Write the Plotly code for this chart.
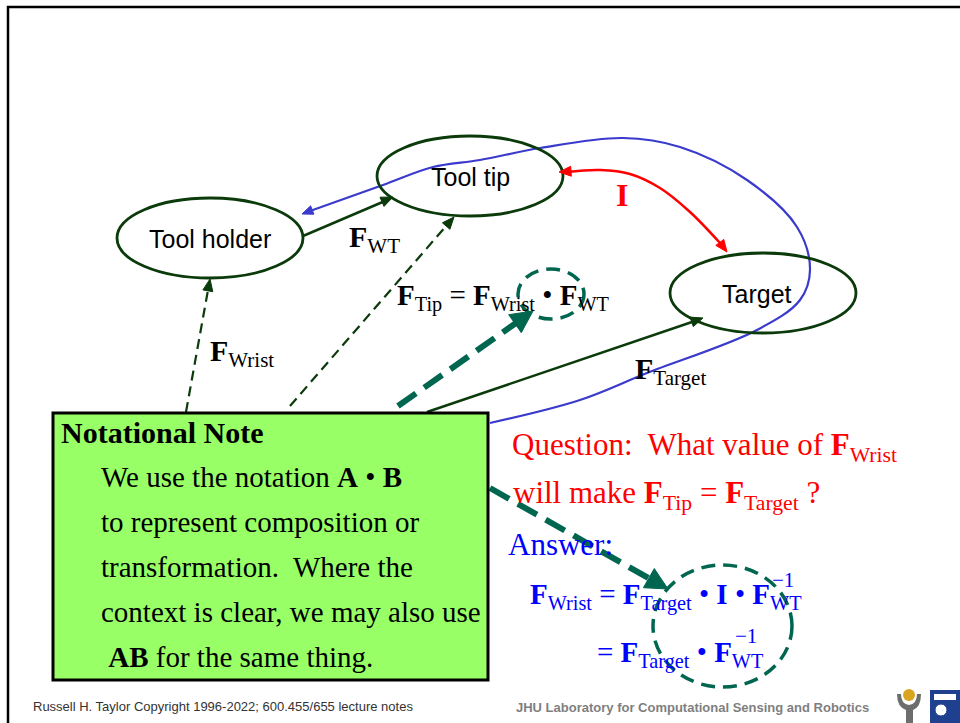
import math
import plotly.graph_objects as go

# ---- content -------------------------------------------------------------
node_labels = ["Tool holder", "Tool tip", "Target"]
node_cx = [210, 470, 763]
node_cy = [238, 176, 293]

note_title = "Notational Note"
note_lines = [
    "We use the notation <b>A</b> \u2022 <b>B</b>",
    "to represent composition or",
    "transformation.  Where the",
    "context is clear, we may also use",
    " <b>AB</b> for the same thing.",
]
footer_left = "Russell H. Taylor Copyright 1996-2022; 600.455/655 lecture notes"
footer_right = "JHU Laboratory for Computational Sensing and Robotics"

# blue loop curve (from note box round to tool holder)
blue_x = [490, 580, 647, 757, 800, 810, 797, 747, 680, 623, 540, 480, 433, 383, 310]
blue_y = [423, 400, 373, 330, 300, 270, 227, 180, 147, 138, 148, 160, 167, 185, 211]
# red "I" curve
red_x = [566, 600, 630, 660, 690, 720]
red_y = [172, 170, 174, 188, 212, 243]

SERIF = "Liberation Serif"
SANS = "Liberation Sans"
DKGREEN = "#0b3a0b"
TEAL = "#006650"
BLUE_LINE = "#3a3acc"
RED = "#ff0000"
BLUE = "#0000ff"

fig = go.Figure()

fig.add_trace(go.Scatter(x=blue_x, y=blue_y, mode="lines",
                         line=dict(color=BLUE_LINE, width=2.2, shape="spline", smoothing=1.0),
                         hoverinfo="skip"))
fig.add_trace(go.Scatter(x=red_x, y=red_y, mode="lines",
                         line=dict(color=RED, width=2.5, shape="spline", smoothing=1.0),
                         hoverinfo="skip"))

shapes = []
ann = []

# slide border (top and left)
shapes.append(dict(type="rect", x0=8, y0=7, x1=990, y1=760,
                   line=dict(color="black", width=2.5)))

for cx, cy in zip(node_cx, node_cy):
    rx, ry = 93, 40
    shapes.append(dict(type="circle", x0=cx - rx, x1=cx + rx, y0=cy - ry, y1=cy + ry,
                       line=dict(color=DKGREEN, width=2.8)))

def head(x, y, ax, ay, color, L=12, W=5):
    dx, dy = x - ax, y - ay
    n = math.hypot(dx, dy)
    ux, uy = dx / n, dy / n
    bx, by = x - ux * L, y - uy * L
    px, py = -uy, ux
    p = "M {:.1f} {:.1f} L {:.1f} {:.1f} L {:.1f} {:.1f} Z".format(
        x, y, bx + px * W, by + py * W, bx - px * W, by - py * W)
    shapes.append(dict(type="path", path=p, fillcolor=color, line=dict(color=color, width=1)))

def line(x0, y0, x1, y1, color, width=2, dash="solid"):
    shapes.append(dict(type="line", x0=x0, y0=y0, x1=x1, y1=y1,
                       line=dict(color=color, width=width, dash=dash)))

THIN_DASH = "10px,6px"
THICK_DASH = "22px,10px"
RING_DASH = "14px,8px"

# F_WT solid arrow
line(303, 236, 385, 201, DKGREEN, 2.5)
head(393, 197, 303, 236, DKGREEN)
# F_Wrist dashed arrow
line(186, 412, 208, 290, DKGREEN, 2.2, THIN_DASH)
head(210, 279, 186, 412, DKGREEN)
# F_Tip dashed arrow
line(290, 406, 447, 225, DKGREEN, 2.2, THIN_DASH)
head(454, 217, 290, 406, DKGREEN)
# F_Target solid arrow
line(427, 412, 692, 322, DKGREEN, 2.5)
head(703, 318, 427, 412, DKGREEN)
# thick teal dashed arrows
line(398, 406, 516, 323, TEAL, 6, THICK_DASH)
head(533, 311, 398, 406, TEAL, 22, 11)
line(490, 488, 650, 579, TEAL, 6, THICK_DASH)
head(668, 589, 490, 488, TEAL, 22, 11)
# red arrowheads
head(559, 172, 575, 171, RED, 12, 5)
head(727, 252, 718, 240, RED, 12, 5)
# blue arrowhead
head(302, 214, 320, 207, BLUE_LINE, 11, 4.5)

# dashed rings
shapes.append(dict(type="circle", x0=518, x1=584, y0=269, y1=319,
                   line=dict(color=TEAL, width=3.5, dash=RING_DASH)))
shapes.append(dict(type="circle", x0=653, x1=792, y0=565, y1=687,
                   line=dict(color=TEAL, width=3.5, dash=RING_DASH)))

# green note box
shapes.append(dict(type="rect", x0=53, y0=413, x1=488, y1=680,
                   fillcolor="#99ff66", line=dict(color="black", width=3), layer="above"))

def txt(x, y, s, size, color="black", family=SERIF, xanchor="left", yanchor="middle"):
    ann.append(dict(x=x, y=y, xref="x", yref="y", text=s, showarrow=False,
                    xanchor=xanchor, yanchor=yanchor,
                    font=dict(family=family, size=size, color=color)))

for lab, cx, cy in zip(node_labels, node_cx, node_cy):
    dx = -6 if lab == "Target" else 0
    txt(cx + dx, cy + 1, lab, 25, "black", SANS, "center")

txt(347, 239, "<b>F</b><sub>WT</sub>", 30)
txt(208, 353, "<b>F</b><sub>Wrist</sub>", 30)
txt(633, 371, "<b>F</b><sub>Target</sub>", 30)
txt(395, 297, "<b>F</b><sub>Tip</sub> = <b>F</b><sub>Wrist</sub> \u2022 <b>F</b><sub>WT</sub>", 29)
txt(622, 195, "<b>I</b>", 32, RED, SERIF, "center")

txt(59, 432, "<b>" + note_title + "</b>", 30)
for i, s in enumerate(note_lines):
    txt(99, 477 + 45 * i, s, 29)

txt(510, 447, "Question:  What value of <b>F</b><sub>Wrist</sub>", 31, RED)
txt(511, 495, "will make <b>F</b><sub>Tip</sub> = <b>F</b><sub>Target</sub> ?", 31, RED)
txt(506, 544, "Answer:", 31, BLUE)
txt(528, 596, "<b>F</b><sub>Wrist</sub> = <b>F</b><sub>Target</sub> \u2022 <b>I</b> \u2022 <b>F</b><sub>WT</sub>", 29, BLUE)
txt(770, 580, "\u22121", 21, BLUE)
txt(595, 654, "= <b>F</b><sub>Target</sub> \u2022 <b>F</b><sub>WT</sub>", 29, BLUE)
txt(733, 636, "\u22121", 21, BLUE)

txt(31, 706, footer_left, 13, "#333333", SANS)
txt(514, 707, "<b>" + footer_right + "</b>", 13, "#7f7f7f", SANS)

# logo (simplified)
shapes.append(dict(type="path", path="M 897 694 Q 897 707 906 710 L 906 723 L 913 723 L 913 710 Q 921 707 921 694 L 917 694 Q 917 704 909 705 Q 901 704 901 694 Z",
                   fillcolor="#6d6d6d", line=dict(width=0)))
shapes.append(dict(type="circle", x0=903, x1=915, y0=689, y1=701,
                   fillcolor="#d9a521", line=dict(width=0)))
shapes.append(dict(type="path", path="M 930 690 L 960 690 L 960 723 L 930 723 Z",
                   fillcolor="#1f3f8f", line=dict(width=0)))
shapes.append(dict(type="path", path="M 934 694 L 956 694 L 956 700 L 934 700 Z",
                   fillcolor="white", line=dict(width=0)))
shapes.append(dict(type="circle", x0=935, x1=947, y0=704, y1=716,
                   fillcolor="white", line=dict(color="#1f3f8f", width=1)))

fig.update_layout(
    width=960, height=723,
    margin=dict(l=0, r=0, t=0, b=0),
    paper_bgcolor="white", plot_bgcolor="white",
    showlegend=False,
    xaxis=dict(range=[0, 960], visible=False, fixedrange=True),
    yaxis=dict(range=[723, 0], visible=False, fixedrange=True),
    shapes=shapes, annotations=ann,
)

fig.write_html("out.html", config={"displayModeBar": False},
               post_script="document.body.style.margin='0';document.body.style.overflow='hidden';")
